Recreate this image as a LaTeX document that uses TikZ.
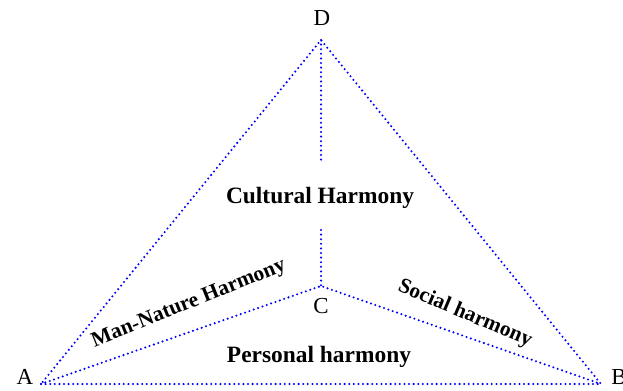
\documentclass[tikz,border=0pt]{standalone}
\usepackage{fontspec}
\setmainfont{Liberation Serif}
\usepackage{tikz}
\usetikzlibrary{positioning}
\definecolor{trait}{RGB}{0,0,255}

\begin{document}
\begin{tikzpicture}[
    x=1bp, y=1bp,
    pointille/.style={trait, line width=2.3bp, line cap=round,
                      dash pattern=on 0pt off 4.6bp},
    sommet/.style={font=\fontsize{23}{26}\selectfont, inner sep=0pt},
    zone/.style={font=\fontsize{23.5}{26}\selectfont\bfseries, inner sep=0pt},
    penche/.style={font=\fontsize{21.5}{24}\selectfont\bfseries, inner sep=0pt}
  ]
    \useasboundingbox (0,0) rectangle (623,390);

    % Sommets
    \coordinate (A) at (41,6);
    \coordinate (B) at (601,6);
    \coordinate (C) at (321,104);
    \coordinate (D) at (321,350);
    \coordinate (Dbas) at (321,228);
    \coordinate (Chaut) at (321,160);

    % Etiquettes des sommets
    \node[sommet] (lA) at (25,13)   {A};
    \node[sommet] (lB) at (619,13)  {B};
    \node[sommet] (lC) at (321,84)  {C};
    \node[sommet] (lD) at (322,372) {D};

    % Triangle exterieur
    \draw[pointille] (A) -- (B) -- (D) -- cycle;

    % Branches vers C
    \draw[pointille] (A) -- (C) -- (B);
    \draw[pointille] (D) -- (Dbas);
    \draw[pointille] (Chaut) -- (C);

    % Zones
    \node[zone] (culture) at (320,192) {Cultural Harmony};
    \node[zone] (perso) at (319,33) {Personal harmony};
    \node[penche, rotate=22] (nature) at (189,86) {Man-Nature Harmony};
    \node[penche, rotate=-23] (social) at (465,76) {Social harmony};
  \end{tikzpicture}
\end{document}
